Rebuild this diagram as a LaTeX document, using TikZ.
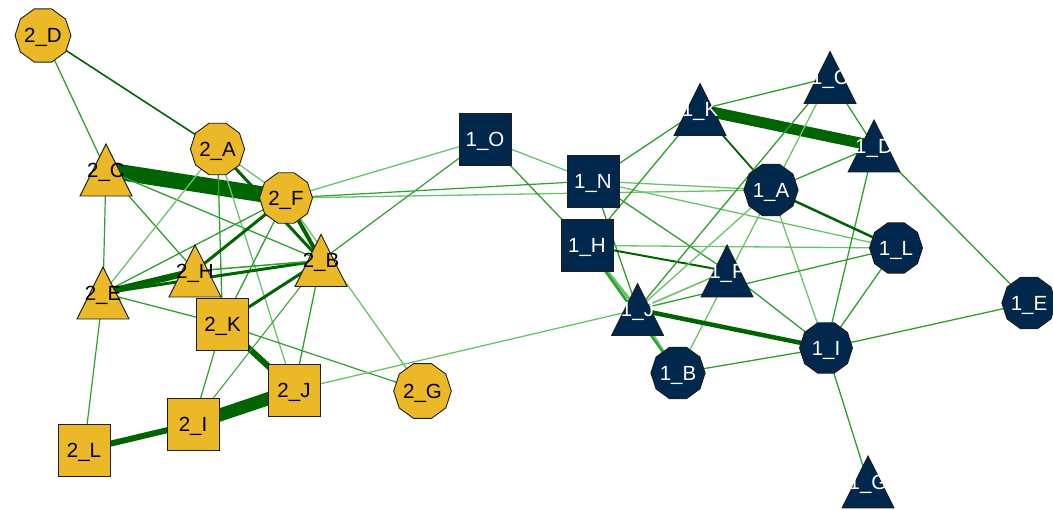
\documentclass[tikz,border=0pt]{standalone}
\usepackage{fontspec}
\setmainfont{Liberation Sans}
\usetikzlibrary{shapes.geometric}
\pgfdeclarelayer{edgelayer}
\pgfsetlayers{edgelayer,main}

\definecolor{gold}{RGB}{235,185,40}
\definecolor{navy}{RGB}{0,39,76}
\definecolor{rim}{RGB}{30,30,30}
\definecolor{edark}{RGB}{0,100,0}
\definecolor{emid}{RGB}{45,160,45}
\definecolor{elight}{RGB}{105,195,105}

\begin{document}
\begin{tikzpicture}[x=1pt,y=-1pt,
  vtx/.style={inner sep=0pt, font=\fontsize{20.5}{20.5}\selectfont,
    text height=14.6pt, text depth=0pt},
  deca/.style={vtx, regular polygon, regular polygon sides=10,
    minimum size=53pt, draw=rim, line width=0.9pt},
  sq/.style={vtx, rectangle, minimum size=52pt, draw=rim, line width=0.9pt},
  tri/.style={vtx, rectangle, minimum size=58pt,
    path picture={\path[fill=#1, draw=rim, line width=0.9pt]
      ([yshift=26pt]path picture bounding box.center)
      -- ([xshift=-26pt,yshift=-26pt]path picture bounding box.center)
      -- ([xshift=26pt,yshift=-26pt]path picture bounding box.center) -- cycle;}},
  gdeca/.style={deca, fill=gold, text=black},
  gsq/.style={sq, fill=gold, text=black},
  gtri/.style={tri=gold, text=black},
  ndeca/.style={deca, fill=navy, text=white},
  nsq/.style={sq, fill=navy, text=white},
  ntri/.style={tri=navy, text=white},
  wdark/.style={draw=edark, line width=#1},
  wmid/.style={draw=emid, line width=#1},
  wlight/.style={draw=elight, line width=#1},
  wdark/.default=2pt, wmid/.default=1.3pt, wlight/.default=1.3pt]

\useasboundingbox (0,0) rectangle (1053,510);

% group 2 (gold)
\node[gdeca] (v2D) at (43,35.5) {2\_D};
\node[gdeca] (v2A) at (217.5,149) {2\_A};
\node[gtri]  (v2C) at (106,170) {2\_C};
\node[gdeca] (v2F) at (286,198) {2\_F};
\node[gtri]  (v2B) at (321,260.5) {2\_B};
\node[gtri]  (v2H) at (195,271) {2\_H};
\node[gtri]  (v2E) at (103,293) {2\_E};
\node[gsq]   (v2K) at (222.5,324) {2\_K};
\node[gsq]   (v2J) at (294,390) {2\_J};
\node[gdeca] (v2G) at (422.5,391) {2\_G};
\node[gsq]   (v2I) at (193,424) {2\_I};
\node[gsq]   (v2L) at (84,450) {2\_L};

% group 1 (navy)
\node[nsq]   (v1O) at (485,139) {1\_O};
\node[nsq]   (v1N) at (593,181) {1\_N};
\node[nsq]   (v1H) at (587,245.5) {1\_H};
\node[ntri]  (v1K) at (700,109.5) {1\_K};
\node[ntri]  (v1C) at (830,77.5) {1\_C};
\node[ntri]  (v1D) at (874,146) {1\_D};
\node[ndeca] (v1A) at (771,190) {1\_A};
\node[ndeca] (v1L) at (896,248) {1\_L};
\node[ntri]  (v1F) at (727,271) {1\_F};
\node[ntri]  (v1J) at (637.5,309.5) {1\_J};
\node[ndeca] (v1B) at (678,373) {1\_B};
\node[ndeca] (v1I) at (826,348) {1\_I};
\node[ndeca] (v1E) at (1029,303) {1\_E};
\node[ntri]  (v1G) at (868,482) {1\_G};

\begin{pgfonlayer}{edgelayer}
% ties inside group 2
\draw[wdark=1.6pt] (v2D.center) -- (v2A.center);
\draw[wmid] (v2D.center) -- (v2C.center);
\draw[wdark=16pt] (v2C.center) -- (v2F.center);
\draw[wmid=1.2pt] (v2C.center) -- (v2E.center);
\draw[wmid] (v2C.center) -- (v2H.center);
\draw[wmid] (v2C.center) -- (v2B.center);
\draw[wlight] (v2A.center) -- (v2F.center);
\draw[wdark=3pt] (v2A.center) -- (v2B.center);
\draw[wmid] (v2A.center) -- (v2K.center);
\draw[wlight] (v2A.center) -- (v2J.center);
\draw[wlight] (v2A.center) -- (v2E.center);
\draw[wdark=4pt] (v2F.center) -- (v2B.center);
\draw[wdark=3pt] (v2F.center) -- (v2H.center);
\draw[wmid] (v2F.center) -- (v2E.center);
\draw[wmid] (v2F.center) -- (v2K.center);
\draw[wlight] (v2F.center) -- (v2G.center);
\draw[wdark=6.5pt] (v2E.center) -- (v2H.center);
\draw[wdark=3pt] (v2E.center) -- (v2B.center);
\draw[wmid] (v2E.center) -- (v2K.center);
\draw[wmid=1.2pt] (v2E.center) -- (v2L.center);
\draw[wmid=1.5pt] (v2H.center) -- (v2B.center);
\draw[wdark=3pt] (v2K.center) -- (v2B.center);
\draw[wdark=6pt] (v2K.center) -- (v2J.center);
\draw[wmid=1.2pt] (v2K.center) -- (v2I.center);
\draw[wmid=1.2pt] (v2K.center) -- (v2G.center);
\draw[wdark=13pt] (v2J.center) -- (v2I.center);
\draw[wmid] (v2J.center) -- (v2B.center);
\draw[wdark=6pt] (v2I.center) -- (v2L.center);
\draw[wmid=1pt] (v2I.center) -- (v2B.center);
% ties between the groups
\draw[wlight] (v2F.center) -- (v1O.center);
\draw[wmid=1.2pt] (v2F.center) -- (v1N.center);
\draw[wlight] (v2F.center) -- (v1A.center);
\draw[wmid=1.2pt] (v2B.center) -- (v1O.center);
\draw[wlight] (v2J.center) -- (v1J.center);
% ties inside group 1
\draw[wlight] (v1O.center) -- (v1N.center);
\draw[wmid] (v1O.center) -- (v1H.center);
\draw[wmid] (v1N.center) -- (v1K.center);
\draw[wlight] (v1N.center) -- (v1A.center);
\draw[wlight] (v1N.center) -- (v1L.center);
\draw[wmid] (v1N.center) -- (v1F.center);
\draw[wmid] (v1N.center) -- (v1J.center);
\draw[wmid] (v1H.center) -- (v1K.center);
\draw[wdark=2pt] (v1H.center) -- (v1F.center);
\draw[wlight] (v1H.center) -- (v1L.center);
\draw[wlight=3pt] (v1H.center) -- (v1J.center);
\draw[wmid=2.5pt] (v1H.center) -- (v1B.center);
\draw[wdark=11pt] (v1K.center) -- (v1D.center);
\draw[wmid] (v1K.center) -- (v1C.center);
\draw[wdark=1.8pt] (v1K.center) -- (v1A.center);
\draw[wmid] (v1C.center) -- (v1D.center);
\draw[wmid] (v1C.center) -- (v1J.center);
\draw[wlight] (v1C.center) -- (v1B.center);
\draw[wmid] (v1D.center) -- (v1A.center);
\draw[wmid] (v1D.center) -- (v1E.center);
\draw[wmid] (v1D.center) -- (v1I.center);
\draw[wdark=2.5pt] (v1A.center) -- (v1L.center);
\draw[wlight] (v1A.center) -- (v1I.center);
\draw[wlight] (v1A.center) -- (v1J.center);
\draw[wmid] (v1L.center) -- (v1I.center);
\draw[wmid] (v1L.center) -- (v1J.center);
\draw[wmid] (v1I.center) -- (v1E.center);
\draw[wmid] (v1I.center) -- (v1G.center);
\draw[wmid] (v1I.center) -- (v1B.center);
\draw[wdark=4.5pt] (v1I.center) -- (v1J.center);
\draw[wmid] (v1I.center) -- (v1F.center);
\draw[wlight=1.6pt] (v1F.center) -- (v1J.center);
\draw[wlight] (v1J.center) -- (v1B.center);
\end{pgfonlayer}
\end{tikzpicture}
\end{document}
